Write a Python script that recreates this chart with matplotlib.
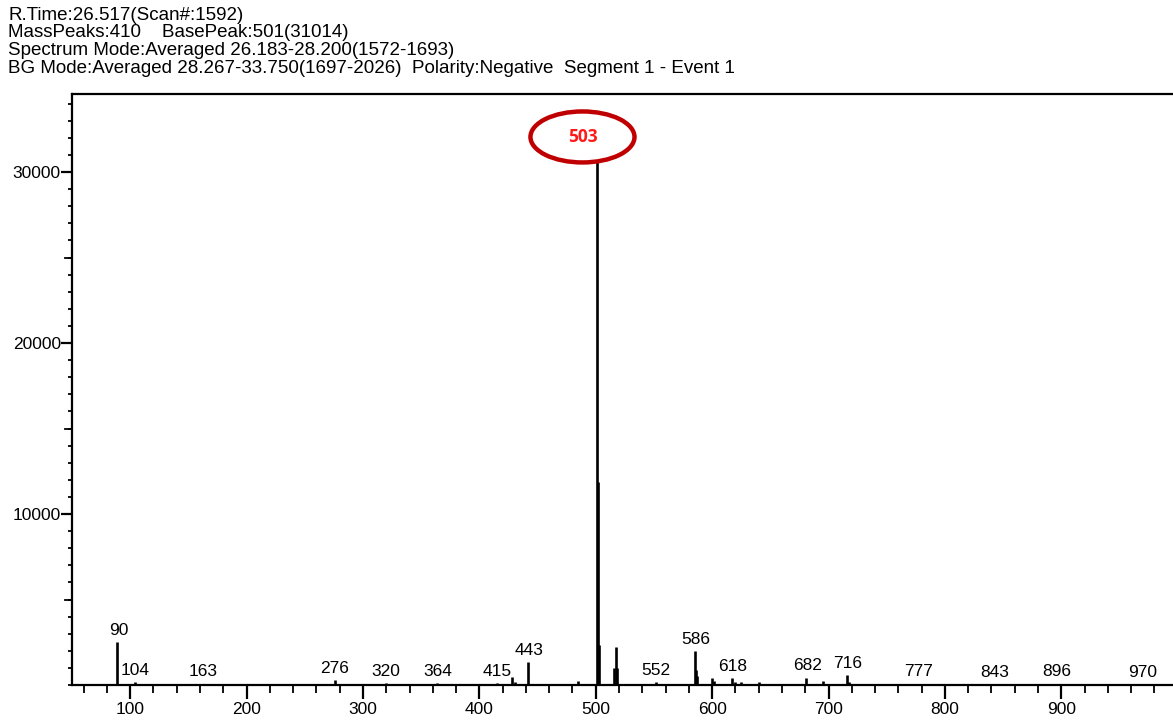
import matplotlib
matplotlib.use('Agg')
import matplotlib.pyplot as plt
from matplotlib.patches import Ellipse
from matplotlib.ticker import MultipleLocator, FixedLocator

plt.rcParams['font.family'] = ['Liberation Sans', 'DejaVu Sans']

# 质谱峰 (m/z, 强度)
mz = [89, 104, 163, 276, 320, 364, 415, 428, 431, 442, 485,
      501, 502, 503, 516, 517, 518, 552, 585, 586, 587,
      600, 602, 617, 620, 625, 640, 681, 695, 716, 718,
      777, 843, 896, 970]
intensity = [2530, 150, 80, 290, 100, 100, 100, 470, 200, 1360, 250,
             31014, 11900, 2340, 1000, 2200, 1000, 150, 2000, 880, 500,
             400, 250, 400, 200, 150, 150, 430, 250, 580, 200,
             80, 60, 80, 60]

# 标注的峰
label_mz = [90, 104, 163, 276, 320, 364, 415, 443, 552, 586, 618, 682, 716, 777, 843, 896, 970]
label_h = [2530, 150, 80, 290, 100, 100, 100, 1360, 150, 2000, 400, 430, 580, 80, 60, 80, 60]

header = ['R.Time:26.517(Scan#:1592)',
          'MassPeaks:410    BasePeak:501(31014)',
          'Spectrum Mode:Averaged 26.183-28.200(1572-1693)',
          'BG Mode:Averaged 28.267-33.750(1697-2026)  Polarity:Negative  Segment 1 - Event 1']

fig = plt.figure(figsize=(11.73, 7.2), dpi=100)
ax = fig.add_axes([0.0614, 0.0486, 0.9386, 0.8208])

ax.vlines(mz, 0, intensity, color='black', linewidth=1.9)

for m, h in zip(label_mz, label_h):
    ax.annotate(str(m), (m, h), xytext=(0, 3), textcoords='offset points',
                ha='center', va='bottom', fontsize=12.5, color='black')

# 红色椭圆标记
ell = Ellipse((488.6, 32050), 89.4, 2982, facecolor='white',
              edgecolor='#c00000', linewidth=3.2, zorder=5)
ax.add_patch(ell)
ax.text(488.6, 32050, '503', ha='center', va='center', fontsize=12.5,
        fontweight='bold', color='#ff1a1a', family=['Open Sans', 'DejaVu Sans'], zorder=6)

ax.set_xlim(50, 996)
ax.set_ylim(0, 34560)

ax.xaxis.set_major_locator(MultipleLocator(100))
ax.xaxis.set_minor_locator(MultipleLocator(20))
ax.yaxis.set_major_locator(FixedLocator([10000, 20000, 30000]))
ax.yaxis.set_minor_locator(MultipleLocator(1000))

ax.tick_params(axis='both', which='major', width=1.6, labelsize=12.5,
               direction='out', colors='black', labelcolor='black')
ax.tick_params(axis='x', which='major', length=10, pad=2)
ax.tick_params(axis='y', which='major', length=8, pad=0)
ax.tick_params(axis='x', which='minor', length=6, width=1.3, direction='out')
ax.tick_params(axis='y', which='minor', length=3, width=1.3, direction='out')

# 5000 处的中等刻度
for y in [5000, 15000, 25000]:
    ax.plot([-0.006, 0], [y, y], transform=ax.get_yaxis_transform(),
            color='black', linewidth=1.3, clip_on=False)

for s in ['left', 'bottom', 'top']:
    ax.spines[s].set_linewidth(1.6)
ax.spines['right'].set_visible(False)

for i, line in enumerate(header):
    fig.text(0.007, 1 - (15 + 17.8 * i) / 720, line, fontsize=13.5,
             va='center', ha='left', color='black')

fig.savefig('out.png', dpi=100)
